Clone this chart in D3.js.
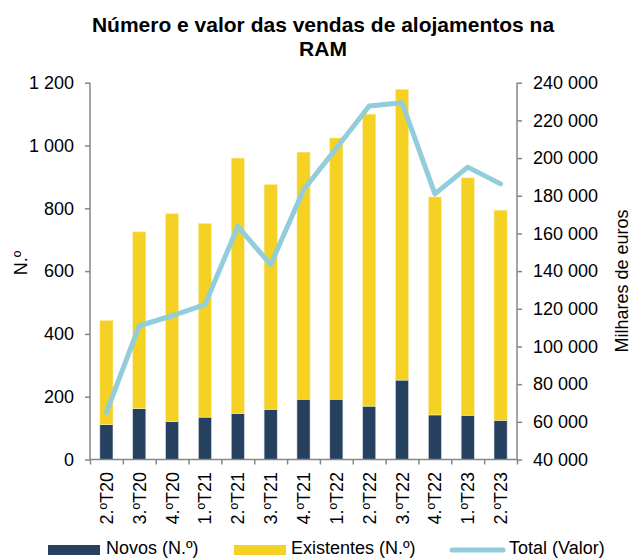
<html>
<head>
  <meta charset="utf-8">
  <script src="https://d3js.org/d3.v7.min.js"></script>
  <style>
    body { margin: 0; background: #fff; }
    text { font-family: "Liberation Sans", Arial, sans-serif; fill: #000; }
  </style>
  <script>
    // data
    var quarters = ["2.ºT20", "3.ºT20", "4.ºT20", "1.ºT21", "2.ºT21", "3.ºT21", "4.ºT21",
                    "1.ºT22", "2.ºT22", "3.ºT22", "4.ºT22", "1.ºT23", "2.ºT23"];
    var novos      = [111, 162, 121, 135, 147, 160, 192, 192, 170, 253, 142, 141, 125];
    var existentes = [332, 563, 662, 617, 813, 716, 787, 832, 930, 926, 694, 756, 669];
    var totalValor = [65000, 111000, 116300, 122200, 163700, 143400, 183100,
                      205200, 227600, 229400, 181000, 195200, 186300];
    var leftTicks  = [0, 200, 400, 600, 800, 1000, 1200];
    var rightTicks = [40000, 60000, 80000, 100000, 120000, 140000, 160000,
                      180000, 200000, 220000, 240000];

    function fmt(v) { return d3.format(",")(v).replace(/,/g, " "); }

    function makeChart() {
      var svg = d3.select("#chart");
      var x0 = 90, x1 = 517, yTop = 82.7, yBot = 459.5;
      var axisCol = "#868686";
      var fs = "18px";

      var scX = d3.scaleBand().domain(quarters).range([x0, x1]).paddingInner(0.6).paddingOuter(0.3);
      var scBand = d3.scaleBand().domain(quarters).range([x0, x1]);
      var scL = d3.scaleLinear().domain([0, 1200]).range([yBot, yTop]);
      var scR = d3.scaleLinear().domain([40000, 240000]).range([yBot, yTop]);

      // title
      svg.append("text").attr("x", 323).attr("y", 32).attr("text-anchor", "middle")
         .style("font-weight", "bold").style("font-size", "21px")
         .text("Número e valor das vendas de alojamentos na");
      svg.append("text").attr("x", 323).attr("y", 56).attr("text-anchor", "middle")
         .style("font-weight", "bold").style("font-size", "21px").text("RAM");

      // stacked bars
      var stack = quarters.map(function(q, i) { return { q: q, n: novos[i], e: existentes[i] }; });
      var g = svg.append("g");
      g.selectAll("rect.n").data(stack).enter().append("rect")
         .attr("x", d => scX(d.q)).attr("width", scX.bandwidth())
         .attr("y", d => scL(d.n)).attr("height", d => yBot - scL(d.n))
         .attr("fill", "#26405f").attr("stroke", "#dfe3ea").attr("stroke-width", 0.6);
      g.selectAll("rect.e").data(stack).enter().append("rect")
         .attr("x", d => scX(d.q)).attr("width", scX.bandwidth())
         .attr("y", d => scL(d.n + d.e)).attr("height", d => scL(d.n) - scL(d.n + d.e))
         .attr("fill", "#f4d123").attr("stroke", "#faeeb0").attr("stroke-width", 0.6);

      // line
      var line = d3.line().x((d, i) => scBand(quarters[i]) + scBand.bandwidth() / 2).y(d => scR(d));
      svg.append("path").datum(totalValor).attr("d", line)
         .attr("fill", "none").attr("stroke", "#92cddc").attr("stroke-width", 5)
         .attr("stroke-linejoin", "round").attr("stroke-linecap", "round");

      // axes
      var axL = svg.append("g").attr("transform", "translate(" + x0 + ",0)")
         .call(d3.axisLeft(scL).tickValues(leftTicks).tickSize(5).tickPadding(11).tickFormat(fmt));
      var axR = svg.append("g").attr("transform", "translate(" + x1 + ",0)")
         .call(d3.axisRight(scR).tickValues(rightTicks).tickSize(5).tickPadding(11).tickFormat(fmt));
      var bounds = quarters.map(q => scBand(q)).concat([x1]);
      var axB = svg.append("g").attr("transform", "translate(0," + yBot + ")")
         .call(d3.axisBottom(d3.scaleLinear().domain([x0, x1]).range([x0, x1]))
               .tickValues(bounds).tickSize(5).tickFormat(""));
      [axL, axR, axB].forEach(function(a) {
        a.select(".domain").attr("stroke", axisCol).attr("stroke-width", 1.5);
        a.selectAll(".tick line").attr("stroke", axisCol).attr("stroke-width", 1.5);
        a.selectAll("text").style("font-size", fs).style("font-family", "Liberation Sans, Arial, sans-serif").attr("fill", "#000");
      });
      axL.select(".domain").attr("d", "M0," + yTop + "V" + yBot);
      axR.select(".domain").attr("d", "M0," + yTop + "V" + yBot);
      axB.select(".domain").attr("d", "M" + x0 + ",0H" + x1);

      // category labels
      svg.append("g").selectAll("text").data(quarters).enter().append("text")
         .attr("transform", d => "translate(" + (scBand(d) + scBand.bandwidth() / 2 + 6.5) + ",472) rotate(-90)")
         .attr("text-anchor", "end").style("font-size", fs).text(d => d);

      // axis titles
      svg.append("text").attr("transform", "translate(27,263) rotate(-90)")
         .attr("text-anchor", "middle").style("font-size", fs).text("N.º");
      svg.append("text").attr("transform", "translate(628,281) rotate(-90)")
         .attr("text-anchor", "middle").style("font-size", fs).text("Milhares de euros");

      // legend
      var leg = svg.append("g");
      leg.append("rect").attr("x", 48).attr("y", 545).attr("width", 52).attr("height", 10).attr("fill", "#26405f");
      leg.append("text").attr("x", 106).attr("y", 554).style("font-size", fs).text("Novos (N.º)");
      leg.append("rect").attr("x", 234).attr("y", 545).attr("width", 52).attr("height", 10).attr("fill", "#f4d123");
      leg.append("text").attr("x", 291).attr("y", 554).style("font-size", fs).text("Existentes (N.º)");
      leg.append("line").attr("x1", 452).attr("x2", 503).attr("y1", 550).attr("y2", 550)
         .attr("stroke", "#92cddc").attr("stroke-width", 5).attr("stroke-linecap", "round");
      leg.append("text").attr("x", 509).attr("y", 554).style("font-size", fs).text("Total (Valor)");
    }
  </script>
</head>
<body onload="makeChart()">
  <svg id="chart" width="631" height="558"></svg>
</body>
</html>
